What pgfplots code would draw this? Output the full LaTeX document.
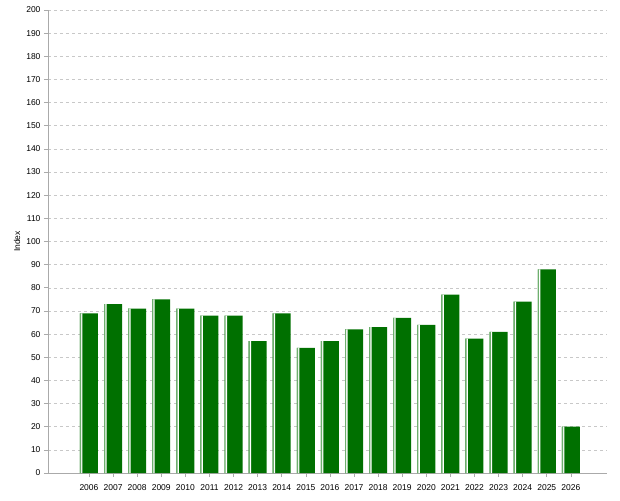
\documentclass[border=0pt]{standalone}
\usepackage{pgfplots}
\pgfplotsset{compat=1.18}
\usepackage{pgfplotstable}
\usepackage{fontspec}
\setmainfont{Liberation Sans}
\definecolor{bargreen}{RGB}{0,112,0}
\definecolor{barlight}{RGB}{110,175,110}
\definecolor{axgrey}{RGB}{170,170,170}
\definecolor{gridgrey}{RGB}{200,200,200}
\pgfplotstableread{
x year val
0 2006 69
1 2007 73
2 2008 71
3 2009 75
4 2010 71
5 2011 68
6 2012 68
7 2013 57
8 2014 69
9 2015 54
10 2016 57
11 2017 62
12 2018 63
13 2019 67
14 2020 64
15 2021 77
16 2022 58
17 2023 61
18 2024 74
19 2025 88
20 2026 20
}\datatable
\begin{document}
\begin{tikzpicture}[x=1pt,y=1pt]
\useasboundingbox (-48,-27) rectangle (572,473);
\begin{axis}[
  at={(0,0)}, anchor=south west,
  scale only axis, width=559pt, height=463pt,
  xmin=-1.7, xmax=21.5, ymin=0, ymax=200,
  ybar,
  axis x line=bottom, axis y line=left,
  axis line style={axgrey, -},
  xtick={0,...,20},
  xticklabels={2006,2007,2008,2009,2010,2011,2012,2013,2014,2015,2016,2017,2018,2019,2020,2021,2022,2023,2024,2025,2026},
  ytick={0,10,...,200},
  ymajorgrids,
  major grid style={gridgrey, dashed, line width=0.5pt},
  tick style={axgrey, line width=0.6pt},
  tick align=outside,
  major tick length=4pt,
  x tick label style={font=\fontsize{8.5}{10}\selectfont, yshift=-4pt},
  y tick label style={font=\fontsize{8.5}{10}\selectfont},
  /pgf/number format/assume math mode=true,
  ylabel={Index},
  ylabel style={font=\fontsize{8.5}{10}\selectfont, at={(axis description cs:-0.0555,0.5)}, anchor=center},
  clip=false,
]
\addplot[fill=bargreen, draw=none, bar width=18pt, bar shift=0pt] table[x=x,y=val]{\datatable};
\addplot[fill=white, draw=none, bar width=2pt, bar shift=-7.5pt] table[x=x,y=val]{\datatable};
\addplot[fill=barlight, draw=none, bar width=1.2pt, bar shift=-8.4pt] table[x=x,y=val]{\datatable};
\end{axis}
\end{tikzpicture}
\end{document}
